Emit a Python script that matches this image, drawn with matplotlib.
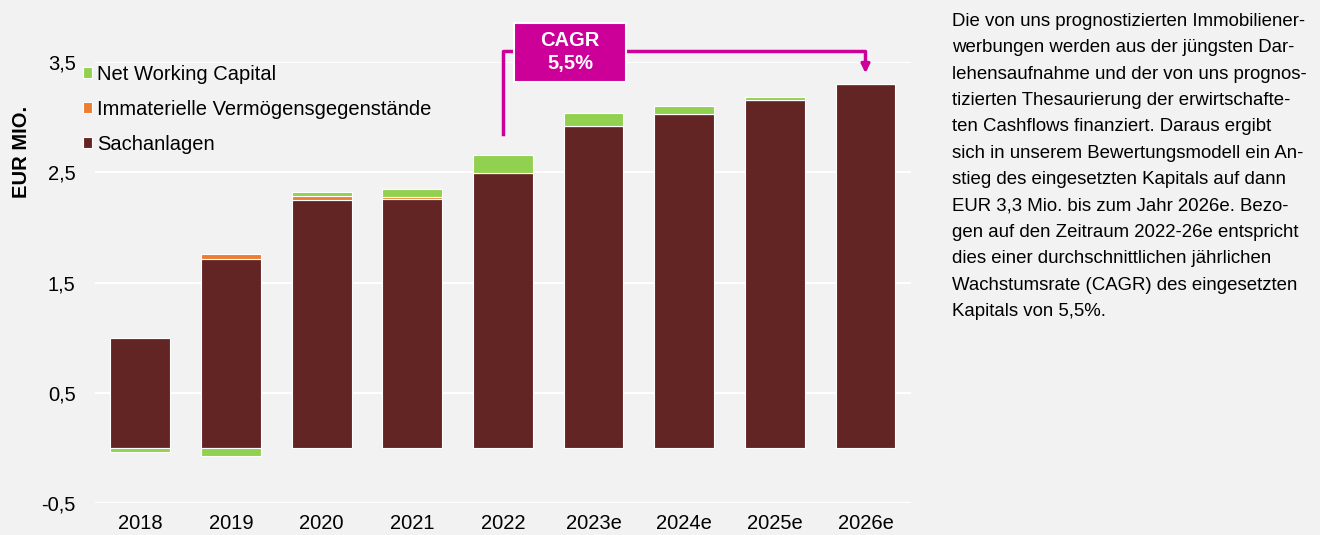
import numpy as np
from matplotlib import pyplot as plt
from matplotlib.patches import Rectangle

plt.rcParams['font.family'] = ['Liberation Sans', 'DejaVu Sans']

years = ['2018', '2019', '2020', '2021', '2022', '2023e', '2024e', '2025e', '2026e']
sachanlagen = [1.00, 1.71, 2.25, 2.255, 2.49, 2.92, 3.03, 3.155, 3.30]
immaterielle = [0.0, 0.05, 0.035, 0.02, 0.0, 0.0, 0.0, 0.0, 0.0]
nwc = [-0.04, -0.075, 0.035, 0.075, 0.17, 0.12, 0.07, 0.025, 0.0]
yticks = [-0.5, 0.5, 1.5, 2.5, 3.5]
cagr_label = 'CAGR\n5,5%'

c_sach = '#632523'
c_imm = '#ed7d31'
c_nwc = '#92d050'
c_mag = '#cc0099'
bg = '#f2f2f2'

side_text = ("Die von uns prognostizierten Immobiliener-\n"
             "werbungen werden aus der jüngsten Dar-\n"
             "lehensaufnahme und der von uns prognos-\n"
             "tizierten Thesaurierung der erwirtschafte-\n"
             "ten Cashflows finanziert. Daraus ergibt\n"
             "sich in unserem Bewertungsmodell ein An-\n"
             "stieg des eingesetzten Kapitals auf dann\n"
             "EUR 3,3 Mio. bis zum Jahr 2026e. Bezo-\n"
             "gen auf den Zeitraum 2022-26e entspricht\n"
             "dies einer durchschnittlichen jährlichen\n"
             "Wachstumsrate (CAGR) des eingesetzten\n"
             "Kapitals von 5,5%.")

fig = plt.figure(figsize=(13.2, 5.35), dpi=100, facecolor=bg)
ax = fig.add_axes([0.072, 0.0598, 0.618, 0.8242], facecolor=bg)

x = np.arange(len(years))
sach = np.array(sachanlagen)
imm = np.array(immaterielle)
nw = np.array(nwc)
w = 0.66

ax.bar(x, sach, w, color=c_sach, edgecolor='white', lw=0.8, label='Sachanlagen', zorder=3)
ax.bar(x, imm, w, bottom=sach, color=c_imm, edgecolor='white', lw=0.8,
       label='Immaterielle Vermögensgegenstände', zorder=3)
nwc_bottom = np.where(nw >= 0, sach + imm, 0)
ax.bar(x, nw, w, bottom=nwc_bottom, color=c_nwc, edgecolor='white', lw=0.8,
       label='Net Working Capital', zorder=3)

ax.set_xlim(-0.5, len(years) - 0.5)
ax.set_ylim(-0.5, 3.5)
ax.set_yticks(yticks)
ax.set_yticklabels([f'{v:.1f}'.replace('.', ',') for v in yticks])
ax.set_xticks(x)
ax.set_xticklabels(years)
ax.tick_params(length=0, labelsize=14.5, colors='black')
ax.tick_params(axis='y', pad=14)
ax.tick_params(axis='x', pad=8)
ax.grid(axis='y', color='white', lw=1.5, zorder=0)
for s in ax.spines.values():
    s.set_visible(False)

h, l = ax.get_legend_handles_labels()
leg = ax.legend(h[::-1], l[::-1], loc='upper left', bbox_to_anchor=(-0.037, 1.035),
                frameon=False, fontsize=14.5, handlelength=0.45, handleheight=0.45,
                handletextpad=0.25, labelspacing=0.8)

fig.text(22 / 1320, 1 - 152 / 535, 'EUR MIO.', rotation=90, fontsize=14.5,
         fontweight='bold', ha='center', va='center')

# CAGR bracket from 2022 to 2026e
i0, i1 = 4, 8
y_line = 3.60
ax.plot([i0, i0, i0 + 0.15], [sach[i0] + nw[i0] + 0.19, y_line, y_line],
        color=c_mag, lw=2.5, clip_on=False, zorder=4)
ax.annotate('', xy=(i1, sach[i1] + 0.1), xytext=(5.3, y_line),
            arrowprops=dict(arrowstyle='-|>', color=c_mag, lw=2.5,
                            connectionstyle='angle,angleA=0,angleB=90,rad=0',
                            shrinkA=0, shrinkB=0, mutation_scale=12),
            annotation_clip=False, zorder=4)
ax.add_patch(Rectangle((4.12, 3.32), 1.235, 0.535, fc=c_mag, ec='white', lw=1.5,
                       clip_on=False, zorder=5))
ax.text(4.74, y_line - 0.01, cagr_label, ha='center', va='center', color='white',
        fontsize=14.5, fontweight='bold', linespacing=1.25, zorder=6, clip_on=False)

fig.text(952 / 1320, 1 - 13 / 535, side_text, ha='left', va='top', fontsize=13.4,
         linespacing=1.72)

fig.savefig('out.png', dpi=100, facecolor=bg)
